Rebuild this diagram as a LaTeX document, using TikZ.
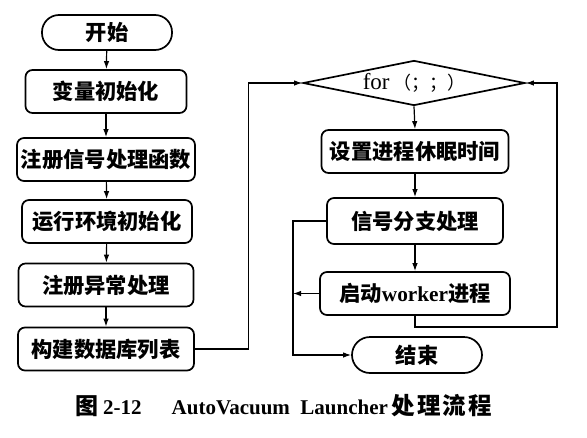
\documentclass[tikz,border=0pt]{standalone}
\usepackage{fontspec}
\setmainfont{Liberation Serif}
\newfontfamily\cjk{Noto Sans CJK SC}
\newfontfamily\lat{Liberation Serif}
\usetikzlibrary{shapes.geometric,arrows.meta}

\tikzset{
  base/.style={draw, line width=1.7pt, inner sep=0pt, align=center,
    font=\cjk\bfseries\fontsize{21.3}{25}\selectfont},
  procbox/.style={base, rounded corners=7pt, minimum height=43pt},
  termbox/.style={base, rounded corners=17pt, minimum height=35pt, minimum width=130pt},
  decbox/.style={base, diamond, aspect=4.9, minimum width=222pt, minimum height=45pt},
  flow/.style={line width=1.2pt, -{Latex[length=8pt,width=5.5pt]}},
}

\begin{document}
\begin{tikzpicture}[x=1pt,y=-1pt]
\useasboundingbox (0,0) rectangle (587,437);

% initialisation column
\node[termbox] (start) at (107,32.5) {开始};
\node[procbox, minimum width=161pt] (init)   at (106,91.5)  {变量初始化};
\node[procbox, minimum width=178pt] (sig)    at (106,159.5) {注册信号处理函数};
\node[procbox, minimum width=170pt] (env)    at (107,221.5) {运行环境初始化};
\node[procbox, minimum width=175pt] (exc)    at (106,285)   {注册异常处理};
\node[procbox, minimum width=176pt] (dblist) at (106,349)   {构建数据库列表};

% main loop column
\node[decbox] (loop) at (414,83)
  {{\lat\mdseries\fontsize{23}{24}\selectfont for}\,{\mdseries\fontsize{18}{22}\selectfont （；；）}};
\node[procbox, minimum width=187pt] (sleep)  at (415,151.5) {设置进程休眠时间};
\node[procbox, minimum width=176pt, minimum height=46pt] (branch) at (415,221) {信号分支处理};
\node[procbox, minimum width=190pt] (worker) at (415,293.5) {启动{\lat worker}进程};
\node[termbox, minimum height=36pt, rounded corners=18pt] (stop) at (417,355) {结束};

\coordinate (rc) at (557,327);
\coordinate (bx) at (293,355);

% connectors
\draw[flow] (start) -- (init);
\draw[flow] (init) -- (sig);
\draw[flow] (sig) -- (env);
\draw[flow] (env) -- (exc);
\draw[flow] (exc) -- (dblist);
\draw[flow] (dblist.east) -- ++(54,0) |- (loop.west);
\draw[flow] (loop.south) -- (sleep.north);
\draw[flow] (sleep) -- (branch);
\draw[flow] (branch) -- (worker);
\draw[flow] (worker.south) |- (rc) |- (loop.east);
\draw[flow] (branch.west) -| (bx) -- (stop.west);
\draw[flow] (worker.west) -- (worker.west -| bx);

% caption
\node[anchor=west, inner sep=0pt] (cap) at (75,406) {\fontsize{21}{24}\selectfont
  {\cjk\bfseries\fontsize{23}{24}\selectfont 图}\hspace{5pt}{\bfseries 2-12}\hspace{30pt}{\bfseries AutoVacuum\ \ Launcher}\hspace{4pt}{\cjk\bfseries\fontsize{23.5}{24}\selectfont 处\hspace{2pt}理\hspace{2pt}流\hspace{2pt}程}};
\end{tikzpicture}
\end{document}
